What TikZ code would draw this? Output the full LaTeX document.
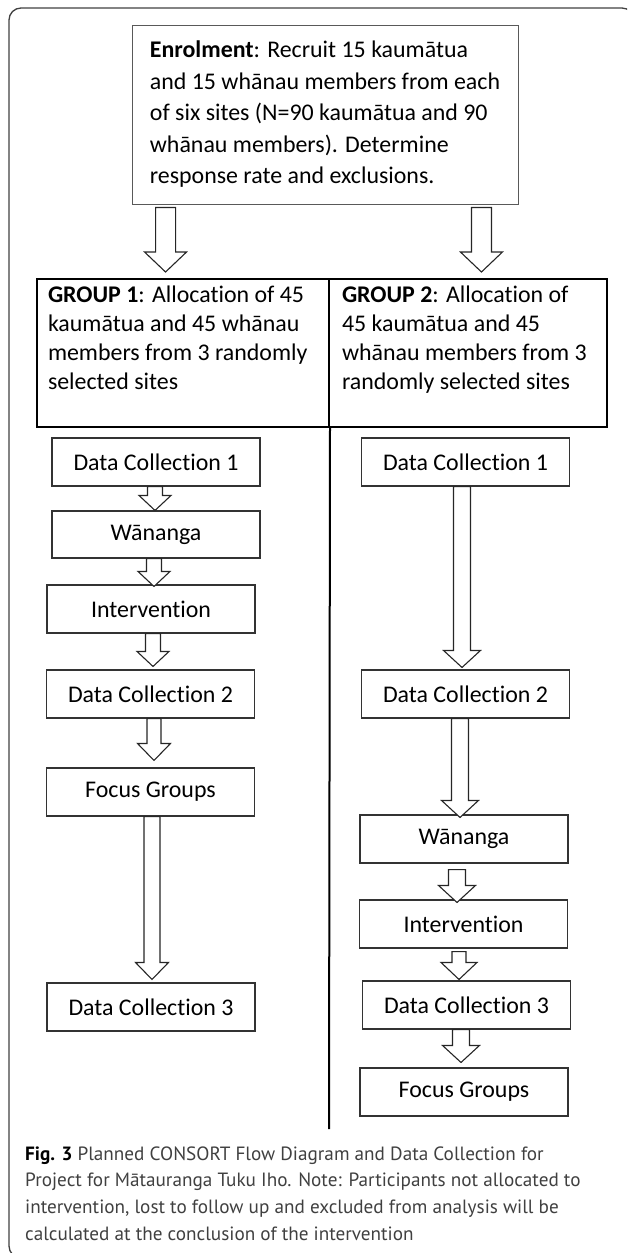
\documentclass[tikz,border=0pt]{standalone}
\usepackage{fontspec}
\setmainfont{Carlito}[Ligatures = NoCommon]
\newfontfamily\captionfont{PT Sans}
\usetikzlibrary{calc}

\begin{document}
\begin{tikzpicture}[x = 1pt, y = -1pt,
    box/.style = {draw = black!80, line width = 1.1pt, minimum width = 208pt, minimum height = 48pt,
                  inner sep = 0pt, font = \fontsize{23.9}{29}\selectfont},
    group/.style = {draw = black, line width = 2pt, minimum height = 148pt, inner sep = 0pt,
                    font = \fontsize{23.9}{29}\selectfont},
    hollow/.style n args = {3}{draw = black!85, line width = 1.1pt, fill = white,
        to path = {let \p1 = (\tikztostart), \p2 = (\tikztotarget) in
            (\x1-#1,\y1) -- (\x1-#1,\y2+#3) -- (\x1-#2,\y2+#3) -- (\x1,\y2)
            -- (\x1+#2,\y2+#3) -- (\x1+#1,\y2+#3) -- (\x1+#1,\y1) -- cycle}},
    flow/.style = {hollow = {7.5pt}{16pt}{15pt}},
    longflow/.style = {hollow = {8.5pt}{18.5pt}{17pt}},
    split/.style = {hollow = {10pt}{21pt}{20pt}}]
    \clip (0,0) rectangle (627,1253);
    \draw[draw = black!75, line width = 1.3pt, rounded corners = 12pt] (9,8) rectangle (634,1258);

    \node [draw = black!65, line width = 0.9pt, minimum width = 386pt, minimum height = 179pt, align = left,
           font = \fontsize{23.9}{31.5}\selectfont] (enrol) at (325,114.5)
          {\textbf{Enrolment}: Recruit 15 kaumātua\\and 15 whānau members from each\\of six sites (N=90 kaumātua and 90\\whānau members). Determine\\response rate and exclusions.};

    \node [group, minimum width = 292pt] (grp1) at (183,353)
          {\parbox[c][148pt][t]{270pt}{\raggedright\rule{0pt}{23pt}\textbf{GROUP 1}: Allocation of 45\\kaumātua and 45 whānau\\members from 3 randomly\\selected sites}};
    \node [group, minimum width = 278pt] (grp2) at (468,353)
          {\parbox[c][148pt][t]{252pt}{\raggedright\rule{0pt}{23pt}\textbf{GROUP 2}: Allocation of\\45 kaumātua and 45\\whānau members from 3\\randomly selected sites}};
    \coordinate (divend) at (329,1129);
    \draw[line width = 2pt] (grp1.south east) -- (divend);
    \draw[split] ([xshift = 34pt, yshift = -3pt]enrol.south west) to ([yshift = 6pt]grp1.north);
    \draw[split] ([xshift = -37pt, yshift = -3pt]enrol.south east) to ([yshift = 6pt]grp2.north);

    \node [box] (dc1a) at (156,462) {Data Collection 1};
    \node [box, minimum height = 47pt] (wan1) at (156,534.5) {Wānanga};
    \node [box] (int1) at (151,609) {Intervention};
    \node [box] (dc2a) at (150.5,694) {Data Collection 2};
    \node [box] (fg1) at (150.5,792) {Focus Groups};
    \node [box] (dc3a) at (151,1007) {Data Collection 3};
    \draw[flow] ([xshift = -1pt]dc1a.south) to (wan1.north);
    \draw[flow] ([xshift = -2pt]wan1.south) to ([yshift = -2pt]int1.north);
    \draw[flow] ([xshift = 2pt]int1.south) to ([yshift = 3pt]dc2a.north);
    \draw[hollow = {7pt}{16.5pt}{17pt}] ([xshift = 3.5pt]dc2a.south) to ([yshift = 7pt]fg1.north);
    \draw[hollow = {8pt}{16.5pt}{17pt}] ([xshift = 1.5pt]fg1.south) to ([yshift = 3pt]dc3a.north);

    \node [box] (dc1b) at (465.5,462) {Data Collection 1};
    \node [box] (dc2b) at (465.5,694) {Data Collection 2};
    \node [box] (wan2) at (464,839) {Wānanga};
    \node [box] (int2) at (463.5,924) {Intervention};
    \node [box] (dc3b) at (466.5,1005) {Data Collection 3};
    \node [box] (fg2) at (464,1092) {Focus Groups};
    \draw[longflow] ([xshift = -3.5pt]dc1b.south) to ([yshift = 2pt]dc2b.north);
    \draw[longflow] ([xshift = -5.5pt]dc2b.south) to ([yshift = -3pt]wan2.north);
    \draw[longflow] ([xshift = -7pt, yshift = -6pt]wan2.south) to ([yshift = -3pt]int2.north);
    \draw[hollow = {7pt}{18pt}{17pt}] ([xshift = -4.5pt, yshift = -3pt]int2.south) to ([yshift = 1pt]dc3b.north);
    \draw[longflow] ([xshift = -5.5pt]dc3b.south) to ([yshift = 5pt]fg2.north);

    \node [anchor = north west, inner sep = 0pt, align = left, text = black!75,
           font = \captionfont\fontsize{19.2}{26.7}\selectfont] (caption) at (25,1140)
          {\rule{0pt}{20pt}\textcolor{black}{\textbf{Fig. 3}} Planned CONSORT Flow Diagram and Data Collection for\\Project for Mātauranga Tuku Iho. Note: Participants not allocated to\\intervention, lost to follow up and excluded from analysis will be\\calculated at the conclusion of the intervention};
\end{tikzpicture}
\end{document}
